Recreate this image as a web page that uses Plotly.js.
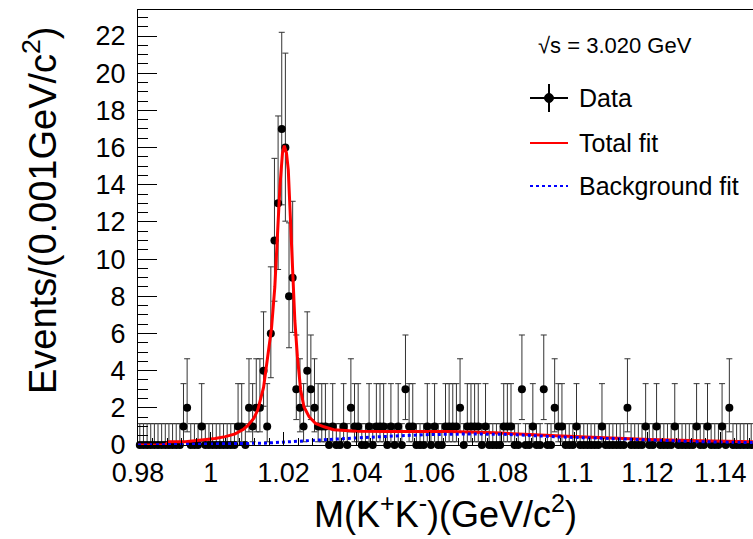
<!DOCTYPE html>
<html>
<head>
<meta charset="utf-8">
<script src="https://cdn.plot.ly/plotly-3.0.1.min.js"></script>
<style>html,body{margin:0;padding:0;background:#fff;}#chart{width:753px;height:539px;}</style>
</head>
<body>
<div id="chart"></div>
<script>
// Histogram definition: bins of 0.001 GeV/c^2 starting at 0.98
const binStart = 0.98;
const binWidth = 0.001;
// Events per bin, bins 0..168
const counts = [
  0,0,0,0,0,0,0,0,0,0,   // 0-9
  0,0,1,2,0,0,0,1,0,0,   // 10-19
  0,0,0,0,0,0,0,1,1,0,   // 20-29
  2,1,2,2,4,1,6,11,13,17,// 30-39
  16,8,9,3,2,1,4,3,2,1,  // 40-49
  1,1,0,1,0,0,1,0,2,1,   // 50-59
  1,0,0,1,0,1,1,1,0,1,   // 60-69
  0,1,0,3,1,1,0,0,0,1,   // 70-79
  0,1,0,0,1,1,1,1,2,0,   // 80-89
  1,1,1,1,0,1,0,0,0,0,   // 90-99
  1,1,1,0,0,3,0,0,1,0,   // 100-109
  0,3,0,0,2,1,1,0,0,0,   // 110-119
  1,0,0,0,0,0,0,1,0,0,   // 120-129
  0,0,0,0,2,0,0,0,0,1,   // 130-139
  0,0,1,0,0,0,0,1,0,0,   // 140-149
  0,0,0,1,0,0,1,0,0,0,   // 150-159
  1,0,2,0,0,0,0,0,0      // 160-168
];
// Poisson (Garwood 68.3%) interval limits for n = 0..17
const poissonLow  = [0,0.173,0.708,1.367,2.086,2.840,3.620,4.419,5.232,6.057,6.891,7.734,8.585,9.441,10.30,11.17,12.04,12.92];
const poissonHigh = [1.148,3.300,4.638,5.918,7.163,8.382,9.584,10.77,11.95,13.11,14.27,15.42,16.56,17.70,18.83,19.96,21.08,22.20];

// Total fit curve
const totalFitX = [0.980,0.9870,0.9877,0.9885,0.993,0.9975,1.0012,1.004,1.0067,1.009,1.0102,1.0118,1.0129,1.0145,1.0159,1.0167,1.0176,1.0183,1.0190,1.0197,1.0202,1.0208,1.0213,1.0219,1.0225,1.0231,1.0238,1.0247,1.0256,1.0270,1.0288,1.0311,1.0338,1.036,1.040,1.049,1.058,1.0657,1.078,1.0872,1.0964,1.1083,1.1207,1.1344,1.149];
const totalFitY = [0,0,0.05,0.18,0.18,0.27,0.35,0.45,0.60,0.85,1.05,1.43,1.88,3.1,5.0,6.3,8.5,11.2,13.9,15.7,16.1,15.7,14.8,12.1,9.4,6.7,4.75,2.96,2.06,1.52,1.16,0.98,0.82,0.78,0.74,0.72,0.74,0.72,0.66,0.56,0.48,0.39,0.29,0.23,0.17];
// Background fit curve
const bkgFitX = [0.980,0.9877,0.995,1.005,1.015,1.022,1.030,1.040,1.050,1.060,1.070,1.080,1.087,1.096,1.108,1.121,1.134,1.149];
const bkgFitY = [0.0,0.0,0.04,0.07,0.10,0.18,0.28,0.38,0.48,0.56,0.59,0.58,0.52,0.43,0.36,0.27,0.18,0.13];

const xTitle = 'M(K<sup>+</sup>K<sup>-</sup>)(GeV/c<sup>2</sup>)';
const yTitle = 'Events/(0.001GeV/c<sup>2</sup>)';
const energyLabel = '√s = 3.020 GeV';
const legendLabels = ['Data', 'Total fit', 'Background fit'];

const binCenters = counts.map((c, i) => +(binStart + (i + 0.5) * binWidth).toFixed(4));
const errUp = counts.map(c => poissonHigh[c] - c);
const errDown = counts.map(c => c - poissonLow[c]);

const FONT = 'Liberation Sans, Arial, Helvetica, sans-serif';

const traces = [
  {
    type: 'scatter', mode: 'markers', x: binCenters, y: counts,
    marker: {color: 'black', size: 8},
    error_y: {type: 'data', symmetric: false, array: errUp, arrayminus: errDown,
              color: '#333', thickness: 1, width: 3},
    cliponaxis: false, showlegend: false, hoverinfo: 'x+y'
  },
  {
    type: 'scatter', mode: 'lines', x: totalFitX, y: totalFitY,
    line: {color: '#ff0000', width: 3}, showlegend: false
  },
  {
    type: 'scatter', mode: 'lines', x: bkgFitX, y: bkgFitY,
    line: {color: '#0000ff', width: 3, dash: 'dot'}, showlegend: false
  }
];

// legend placement helpers (paper coordinates from pixel positions of the plot area)
const L = 138, W = 615, B = 445, H = 435;
const px = v => (v - L) / W;
const py = v => (B - v) / H;

const shapes = [
  {type: 'line', xref: 'paper', yref: 'paper', x0: px(530), x1: px(568), y0: py(98), y1: py(98), line: {color: 'black', width: 2}},
  {type: 'line', xref: 'paper', yref: 'paper', x0: px(549), x1: px(549), y0: py(84), y1: py(112), line: {color: 'black', width: 2}},
  {type: 'circle', xref: 'paper', yref: 'paper', x0: px(544.5), x1: px(553.5), y0: py(102.5), y1: py(93.5), fillcolor: 'black', line: {color: 'black', width: 1}},
  {type: 'line', xref: 'paper', yref: 'paper', x0: px(530), x1: px(568), y0: py(143), y1: py(143), line: {color: '#ff0000', width: 2}},
  {type: 'line', xref: 'paper', yref: 'paper', x0: px(530), x1: px(568), y0: py(186), y1: py(186), line: {color: '#0000ff', width: 2, dash: 'dot'}}
];

const annotations = [
  {xref: 'paper', yref: 'paper', x: px(536), y: py(45), xanchor: 'left', yanchor: 'middle', showarrow: false, text: energyLabel, font: {family: FONT, size: 22, color: 'black'}},
  {xref: 'paper', yref: 'paper', x: px(577), y: py(98), xanchor: 'left', yanchor: 'middle', showarrow: false, text: legendLabels[0], font: {family: FONT, size: 25, color: 'black'}},
  {xref: 'paper', yref: 'paper', x: px(577), y: py(143), xanchor: 'left', yanchor: 'middle', showarrow: false, text: legendLabels[1], font: {family: FONT, size: 25, color: 'black'}},
  {xref: 'paper', yref: 'paper', x: px(577), y: py(186), xanchor: 'left', yanchor: 'middle', showarrow: false, text: legendLabels[2], font: {family: FONT, size: 25, color: 'black'}},
  {xref: 'paper', yref: 'paper', x: px(40), y: py(210), xanchor: 'center', yanchor: 'middle', textangle: -90, showarrow: false, text: yTitle, font: {family: FONT, size: 38, color: 'black'}}
];

const layout = {
  width: 753, height: 539,
  margin: {l: 138, r: 0, t: 10, b: 94, pad: 0},
  paper_bgcolor: 'white', plot_bgcolor: 'white',
  font: {family: FONT, color: 'black'},
  showlegend: false,
  xaxis: {
    range: [0.98, 1.149], tick0: 0.98, dtick: 0.02,
    ticks: 'inside', ticklen: 13, tickwidth: 1, tickcolor: 'black',
    minor: {dtick: 0.004, ticks: 'inside', ticklen: 7, tickcolor: 'black', showgrid: false},
    showline: true, linecolor: 'black', linewidth: 1, mirror: true,
    showgrid: false, zeroline: false,
    tickfont: {family: FONT, size: 27, color: 'black'},
    ticklabelstandoff: 4,
    title: {text: xTitle, font: {family: FONT, size: 36, color: 'black'}, standoff: 14}
  },
  yaxis: {
    range: [0, 23.4], tick0: 0, dtick: 2,
    ticks: 'inside', ticklen: 19, tickwidth: 1, tickcolor: 'black',
    minor: {dtick: 0.5, ticks: 'inside', ticklen: 10, tickcolor: 'black', showgrid: false},
    showline: true, linecolor: 'black', linewidth: 1,
    showgrid: false, zeroline: false,
    tickfont: {family: FONT, size: 27, color: 'black'},
    ticklabelstandoff: 6
  },
  shapes: shapes,
  annotations: annotations
};

Plotly.newPlot('chart', traces, layout, {staticPlot: true, displayModeBar: false});
</script>
</body>
</html>
